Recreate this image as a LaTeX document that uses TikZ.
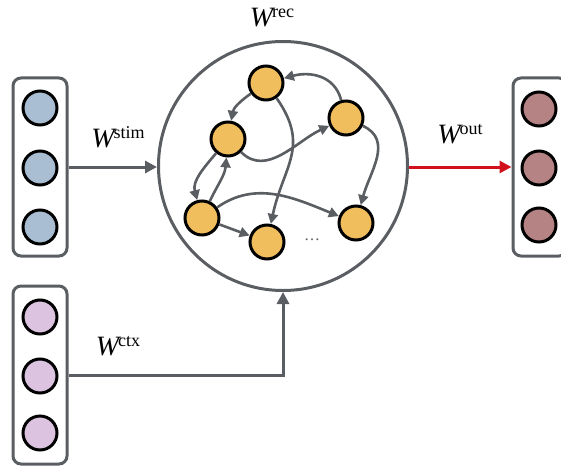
\documentclass[tikz,border=0pt]{standalone}
\usepackage{fontspec}
\setmainfont{Liberation Serif}
\usetikzlibrary{arrows.meta}
\definecolor{linegray}{HTML}{5A5D62}
\definecolor{stimfill}{HTML}{A9BDD3}
\definecolor{ctxfill}{HTML}{DCC3E0}
\definecolor{outfill}{HTML}{B58383}
\definecolor{recfill}{HTML}{F1BE5E}
\definecolor{outred}{HTML}{D2101C}
\newcommand{\wlab}[1]{{\fontsize{28}{32}\selectfont\itshape W}\kern-1pt\raisebox{9pt}{\fontsize{18}{20}\selectfont #1}}
\begin{document}
\begin{tikzpicture}[x=1pt,y=-1pt,
  unit/.style={circle,draw=black,line width=3pt,minimum size=34pt,inner sep=0pt},
  layer/.style={draw=linegray,line width=3pt,rounded corners=8pt,minimum width=54pt,minimum height=178pt,inner sep=0pt},
  conn/.style={draw=linegray,line width=3pt,-{Triangle[length=12pt,width=12pt]}},
  edge/.style={draw=linegray,line width=2.6pt,-{Triangle[length=10pt,width=10pt]}},
  lab/.style={inner sep=0pt}]
\useasboundingbox (0,0) rectangle (561,468);
\clip (0,0) rectangle (561,468);

% recurrent pool
\node[circle,draw=linegray,line width=3pt,minimum size=249pt,inner sep=0pt] (rec) at (283,166) {};
\node[lab] (lrec) at (272,18) {\wlab{rec}};

% recurrent units
\node[unit,fill=recfill] (r1) at (266,83) {};
\node[unit,fill=recfill] (r2) at (346,118) {};
\node[unit,fill=recfill] (r3) at (228,139) {};
\node[unit,fill=recfill] (r4) at (202,218) {};
\node[unit,fill=recfill] (r5) at (267,242) {};
\node[unit,fill=recfill] (r6) at (356,223) {};
\node[lab] (dots) at (312,240) {\fontsize{16}{16}\selectfont\textcolor{linegray}{\dots}};

% recurrent connections
\draw[edge] (r1) to[out=215,in=80] (r3);
\draw[edge] (r2) to[out=105,in=15,looseness=1.1] (r1);
\draw[edge] (r3) to[out=-45,in=205] (r2);
\draw[edge] (r1) to[out=-55,in=78,looseness=1.2] (r5);
\draw[edge] (r2) to[out=-25,in=75,looseness=1.1] (r6);
\draw[edge] (r3) to[out=230,in=105] (r4);
\draw[edge] (r4) to[out=65,in=-95] (r3);
\draw[edge] (r4) to[out=35,in=158] (r6);
\draw[edge] (r4) -- (r5);

% stimulus layer
\node[layer] (stim) at (40,167) {};
\node[unit,fill=stimfill] (s1) at (40,108) {};
\node[unit,fill=stimfill] (s2) at (40,168) {};
\node[unit,fill=stimfill] (s3) at (40,227) {};
\node[lab] (lstim) at (118,137) {\wlab{stim}};

% context layer
\node[layer] (ctx) at (40,375) {};
\node[unit,fill=ctxfill] (c1) at (40,317) {};
\node[unit,fill=ctxfill] (c2) at (40,376) {};
\node[unit,fill=ctxfill] (c3) at (40,433) {};
\node[lab] (lctx) at (118,346) {\wlab{ctx}};

% output layer
\node[layer] (out) at (540,167) {};
\node[unit,fill=outfill] (o1) at (539,109) {};
\node[unit,fill=outfill] (o2) at (539,168) {};
\node[unit,fill=outfill] (o3) at (539,225) {};
\node[lab] (lout) at (460,134) {\wlab{out}};

% feed-forward connections
\draw[conn] (stim.east) -- (stim.east -| rec.west);
\draw[conn] (ctx.east) -| (rec.south);
\draw[conn,draw=outred,fill=outred] (rec.east |- out.west) -- (out.west);
\end{tikzpicture}
\end{document}
